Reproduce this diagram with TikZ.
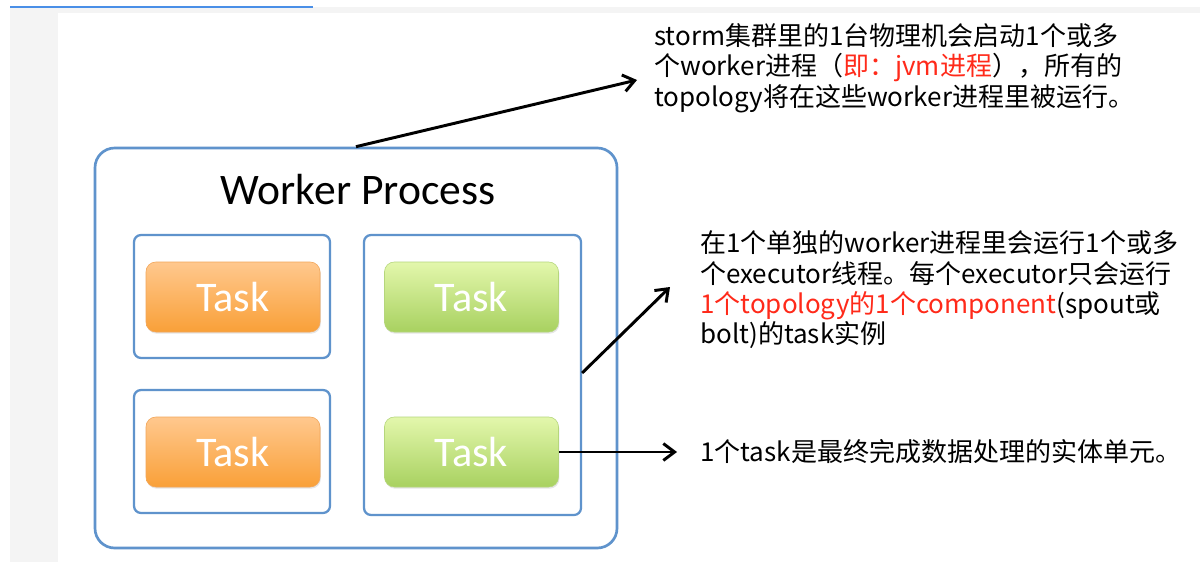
\documentclass[tikz,border=0pt]{standalone}
\usepackage{fontspec}
\newfontfamily\cjk{Noto Sans CJK SC}
\newfontfamily\calib{Carlito}
\usetikzlibrary{arrows.meta, positioning, shadows}
\definecolor{boxblue}{HTML}{5F93CC}
\definecolor{orgtop}{HTML}{FFC88E}
\definecolor{orgbot}{HTML}{F9A038}
\definecolor{orgline}{HTML}{F2A65A}
\definecolor{grntop}{HTML}{E3F7AC}
\definecolor{grnbot}{HTML}{A8D160}
\definecolor{grnline}{HTML}{B5D67C}
\definecolor{hired}{HTML}{FF2A1A}
\definecolor{pagegray}{HTML}{F4F4F4}
\definecolor{headblue}{HTML}{4A8FE7}

\begin{document}
\begin{tikzpicture}[
  >={Straight Barb[length=2.8mm, width=4.2mm]},
  frame/.style={draw=boxblue, line width=1.6pt, rounded corners=5pt,
    minimum width=#1},
  taskbox/.style 2 args={
    draw=#1line, line width=0.4pt, top color=#1top, bottom color=#1bot,
    rounded corners=7pt, minimum width=43.5mm, minimum height=17.5mm,
    font=\calib\fontsize{30}{30}\selectfont, text=white,
    drop shadow={opacity=0.2, shadow xshift=0.6pt, shadow yshift=-1.2pt}},
  note/.style={font=\cjk\fontsize{18.5}{21.6}\selectfont, text=black,
    align=left, anchor=west, inner sep=0pt},
  link/.style={->, line width=2.1pt, black},
]

% Page canvas
\useasboundingbox (0,0) rectangle (30,14.05);
\fill[pagegray] (0.25,0) rectangle (30,13.875);
\fill[white] (1.45,0) rectangle (30,13.725);
\draw[headblue, line width=1.4pt] (0.25,13.875) -- (7.825,13.875);

% === Worker process (outer frame) ===
\node[frame=130.5mm, minimum height=100mm, line width=1.9pt,
  rounded corners=14pt] (worker) at (8.9,5.35) {};
\node[font=\calib\fontsize{31}{31}\selectfont] (title) at (8.95,9.3)
  {Worker Process};

% === Executor frames ===
\node[frame=49mm, minimum height=30.75mm] (exleft1) at (5.8,6.6375) {};
\node[frame=49mm, minimum height=30.75mm] (exleft2) at (5.8,2.7625) {};
\node[frame=54.25mm, minimum height=70mm] (exright) at (11.8125,4.675) {};

% === Tasks ===
\node[taskbox={org}{}] (task1) at (5.825,6.625) {Task};
\node[taskbox={org}{}] (task2) at (5.825,2.75) {Task};
\node[taskbox={grn}{}] (task3) at (11.7875,6.625) {Task};
\node[taskbox={grn}{}] (task4) at (11.7875,2.75) {Task};

% === Notes on the right ===
\node[note] (noteworker) at (16.35,12.35)
  {storm集群里的1台物理机会启动1个或多\\
   个worker进程（\textcolor{hired}{即：jvm进程}），所有的\\
   topology将在这些worker进程里被运行。};
\node[note] (noteexec) at (17.5,6.8)
  {在1个单独的worker进程里会运行1个或多\\
   个executor线程。每个executor只会运行\\
   \textcolor{hired}{1个topology的1个component}(spout或\\
   bolt)的task实例};
\node[note] (notetask) at (17.5,2.75)
  {1个task是最终完成数据处理的实体单元。};

% arrow ends
\coordinate (tipworker) at (15.925,12.05);
\coordinate (tipexec) at (16.75,6.875);
\coordinate (tiptask) at (16.925,2.75);

% === Connectors ===
\draw[link] (worker.north) -- (tipworker);
\draw[link] ([yshift=0.05cm]exright.east) -- (tipexec);
\draw[link] (task4.east) -- (tiptask);

\end{tikzpicture}
\end{document}
